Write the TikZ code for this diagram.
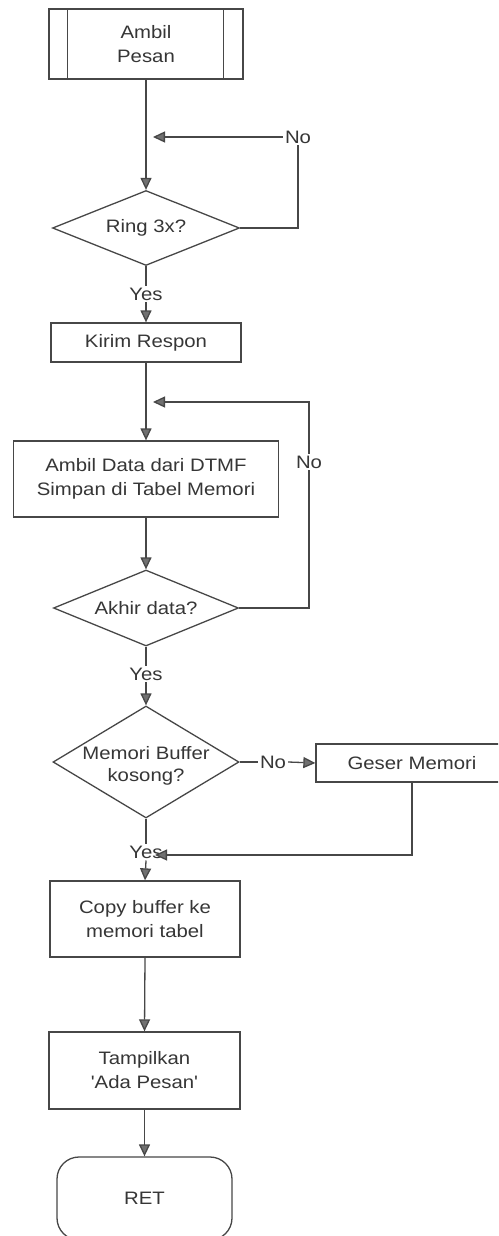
\documentclass[tikz,border=0pt]{standalone}
\usepackage{fontspec}
\setmainfont{Liberation Sans}[FakeStretch=1.13, Ligatures=TeXOff]
\usetikzlibrary{arrows.meta,shapes.geometric}

\definecolor{linec}{HTML}{474747}
\definecolor{txt}{HTML}{363636}
\definecolor{headc}{HTML}{707070}

\tikzset{
  flowline/.style={draw=linec, line width=1.3pt},
  arr/.style={flowline, -{Triangle[width=11pt,length=12pt,fill=headc]}},
  box/.style={draw=linec, line width=1.3pt, rectangle, inner sep=0pt, align=center,
    text=txt, font=\fontsize{18}{24}\selectfont},
  dia/.style={draw=linec, line width=1.3pt, diamond, inner sep=0pt},
  lbl/.style={text=txt, font=\fontsize{18}{22}\selectfont, inner sep=2pt, align=center},
}

\begin{document}
\begin{tikzpicture}[x=1pt, y=-1pt]
  \path[use as bounding box, fill=white] (0,0) rectangle (498,1236);
  \clip (0,0) rectangle (498,1236);

  % subroutine entry
  \node[box, minimum width=194pt, minimum height=70pt] (b1) at (146,44) {Ambil\\Pesan};
  \draw[flowline] ([xshift=19pt]b1.north west) -- ([xshift=19pt]b1.south west);
  \draw[flowline] ([xshift=-20pt]b1.north east) -- ([xshift=-20pt]b1.south east);

  % wait for three rings
  \node[dia, minimum width=187pt, minimum height=75pt,
        label={[lbl]center:Ring 3x?}] (d1) at (146,228) {};
  \node[lbl] (no1) at (298,137) {No};
  \node[lbl] (yes1) at (146,294) {Yes};
  \node[box, minimum width=190pt, minimum height=39pt] (b2) at (146,342.5) {Kirim Respon};

  % read DTMF data
  \node[box, minimum width=265pt, minimum height=76pt] (b3) at (146,479) {Ambil Data dari DTMF\\Simpan di Tabel Memori};
  \node[dia, minimum width=185pt, minimum height=76pt,
        label={[lbl]center:Akhir data?}] (d2) at (146,608) {};
  \node[lbl] (no2) at (309,462) {No};
  \node[lbl] (yes2) at (146,674) {Yes};

  % buffer handling
  \node[dia, minimum width=186pt, minimum height=112pt,
        label={[lbl, yshift=-4pt]center:Memori Buffer\\kosong?}] (d3) at (146,762) {};
  \node[lbl] (no3) at (273,762) {No};
  \node[box, minimum width=192pt, minimum height=38pt] (b4) at (412,763) {Geser Memori};
  \node[lbl] (yes3) at (146,852) {Yes};
  \node[box, minimum width=190pt, minimum height=76pt] (b5) at (145,919) {Copy buffer ke\\memori tabel};
  \node[box, minimum width=191pt, minimum height=77pt] (b6) at (144.5,1070.5) {Tampilkan\\'Ada Pesan'};
  \node[box, rounded corners=22pt, minimum width=175pt, minimum height=83pt] (ret) at (144.5,1198.5) {RET};

  % merge points on the main line
  \coordinate (m1) at (153,137);
  \coordinate (m2) at (153,402);
  \coordinate (m3) at (155,855);

  % connectors
  \draw[arr] (b1.south) -- (d1.north);
  \draw[flowline] (d1.east) -| (no1.south);
  \draw[arr] (no1.west) -- (m1);
  \draw[flowline] (d1.south) -- (yes1.north);
  \draw[arr] (yes1.south) -- (b2.north);

  \draw[arr] (b2.south) -- (b3.north);
  \draw[arr] (b3.south) -- (d2.north);
  \draw[flowline] (d2.east) -| (no2.south);
  \draw[arr] (no2.north) |- (m2);
  \draw[flowline] (d2.south) -- (yes2.north);
  \draw[arr] (yes2.south) -- (d3.north);

  \draw[flowline] (d3.east) -- (no3.west);
  \draw[arr] (no3.east) -- (b4.west);
  \draw[arr] (b4.south) |- (m3);
  \draw[flowline] (d3.south) -- (yes3.north);
  \draw[arr] (yes3.south) -- (b5.north);
  \draw[arr] (b5.south) -- (b6.north);
  \draw[arr] (b6.south) -- (ret.north);
\end{tikzpicture}
\end{document}
